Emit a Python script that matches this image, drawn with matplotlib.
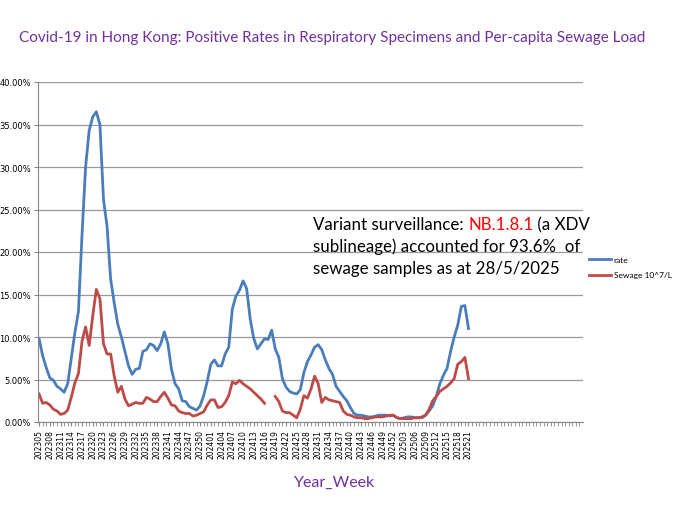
import numpy as np
from matplotlib import pyplot as plt

plt.rcParams['font.family'] = ['Lato', 'DejaVu Sans']

# Year_Week categories: 2023-05 .. 2025-21
weeks = ([f"2023{w:02}" for w in range(5, 53)]
         + [f"2024{w:02}" for w in range(1, 53)]
         + [f"2025{w:02}" for w in range(1, 22)])

rate = [9.8, 7.8, 6.4, 5.2, 4.9, 4.2, 3.9, 3.5, 4.5, 7.5, 10.5, 13.0, 22.0, 30.0,
        34.3, 35.9, 36.5, 35.0, 26.2, 23.0, 16.8, 14.0, 11.5, 10.0, 8.3, 6.6, 5.6,
        6.2, 6.3, 8.3, 8.5, 9.2, 9.0, 8.4, 9.2, 10.6, 9.2, 6.2, 4.5, 3.9, 2.5, 2.4,
        1.8, 1.6, 1.4, 1.9, 3.1, 4.8, 6.8,
        7.3, 6.6, 6.6, 8.0, 8.8, 13.3, 14.8, 15.5, 16.6, 15.7, 12.1, 9.8, 8.6, 9.2,
        9.8, 9.7, 10.8, 8.6, 7.6, 5.1, 4.1, 3.6, 3.4, 3.3, 3.8, 5.8, 7.1, 7.9, 8.8,
        9.1, 8.5, 7.3, 6.3, 5.6, 4.2, 3.6, 3.0, 2.5, 1.7, 1.0, 0.8, 0.8, 0.7,
        0.6, 0.6, 0.7, 0.8, 0.8, 0.8, 0.7, 0.8, 0.5, 0.4, 0.5, 0.6, 0.6, 0.5, 0.5,
        0.5, 0.8, 1.3, 1.9, 3.0, 4.5, 5.5, 6.3, 8.3, 10.0, 11.4, 13.6, 13.7, 11.0]

sewage = [3.3, 2.2, 2.3, 2.0, 1.5, 1.3, 0.9, 1.0, 1.4, 2.9, 4.6, 5.7, 9.5, 11.2,
          9.0, 12.5, 15.6, 14.5, 9.2, 8.0, 8.0, 5.4, 3.5, 4.2, 2.7, 1.9, 2.1, 2.3,
          2.2, 2.2, 2.9, 2.7, 2.4, 2.4, 3.0, 3.5, 2.8, 2.0, 1.9, 1.3, 1.1, 1.0, 1.0,
          0.7, 0.8, 1.0, 1.2, 2.0, 2.6,
          2.6, 1.7, 1.8, 2.3, 3.1, 4.7, 4.5, 4.9, 4.5, 4.2, 3.9, 3.5, 3.1, 2.7, 2.2,
          np.nan, np.nan, 3.0, 2.4, 1.3, 1.1, 1.1, 0.8, 0.5, 1.5, 3.1, 2.8, 3.9, 5.4,
          4.5, 2.3, 2.9, 2.6, 2.5, 2.4, 2.3, 1.3, 0.9, 0.8, 0.6, 0.5, 0.5, 0.4,
          0.4, 0.5, 0.6, 0.6, 0.6, 0.7, 0.8, 0.8, 0.5, 0.4, 0.4, 0.4, 0.4, 0.5, 0.5,
          0.6, 0.8, 1.5, 2.5, 3.0, 3.6, 3.9, 4.2, 4.6, 5.1, 6.8, 7.1, 7.6, 5.1]

purple = "#7030A0"

fig = plt.figure(figsize=(6.8, 5.1), dpi=100)
ax = fig.add_axes([38 / 680, 1 - 423 / 510, (583 - 38) / 680, (423 - 83) / 510])

x = np.arange(len(weeks))
ax.plot(x, np.array(rate) / 100, color="#4A7EBB", lw=2, label="rate")
ax.plot(x, np.array(sewage) / 100, color="#BE4B48", lw=2, label="Sewage 10^7/L")

ax.set_xlim(-0.3, 152)
ax.set_ylim(0, 0.4)
yt = np.arange(0, 0.41, 0.05)
ax.set_yticks(yt)
ax.set_yticklabels([f"{v * 100:.2f}%" for v in yt], fontsize=6, family="DejaVu Sans")
ax.yaxis.grid(True, color="#999999", lw=0.9)
ax.set_axisbelow(True)

ax.set_xticks(x[::3])
ax.set_xticklabels(weeks[::3], rotation=90, fontsize=5.5, family="DejaVu Sans")
ax.set_xticks(np.arange(0, 152), minor=True)
ax.tick_params(axis="x", which="both", length=3, color="#888888", pad=2)
ax.tick_params(axis="y", length=3, color="#888888", pad=2)
for side in ["top", "right"]:
    ax.spines[side].set_visible(False)
for side in ["left", "bottom"]:
    ax.spines[side].set_color("#888888")

fig.text(332 / 680, 1 - 38 / 510, "Covid-19 in Hong Kong: Positive Rates in Respiratory Specimens and Per-capita Sewage Load",
         ha="center", va="center", color=purple, fontsize=11)
fig.text(335 / 680, 1 - 483 / 510, "Year_Week", ha="center", va="center", color=purple, fontsize=11.5)

ax.legend(loc="center left", bbox_to_anchor=((586 - 38) / 545, 0.455), frameon=False,
          fontsize=6, handlelength=2.6, borderaxespad=0, handletextpad=0.3, labelspacing=1.0)

# annotation text
tx = 313 / 680
fs = 12.2
t1 = fig.text(tx, 1 - 225 / 510, "Variant surveillance: ", fontsize=fs, va="center")
fig.canvas.draw()
bb = t1.get_window_extent()
t2 = fig.text(bb.x1 / 680, 1 - 225 / 510, "NB.1.8.1", fontsize=fs, va="center", color="#FF0000")
bb2 = t2.get_window_extent()
fig.text(bb2.x1 / 680, 1 - 225 / 510, " (a XDV", fontsize=fs, va="center")
fig.text(tx, 1 - 247 / 510, "sublineage) accounted for 93.6%  of", fontsize=fs, va="center")
fig.text(tx, 1 - 269 / 510, "sewage samples as at 28/5/2025", fontsize=fs, va="center")

fig.savefig("out.png", dpi=100)
